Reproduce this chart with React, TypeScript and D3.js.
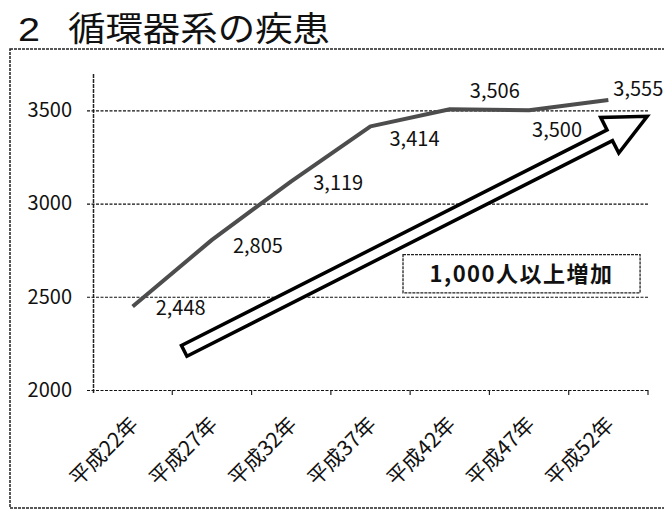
import * as React from "react";
import { select, scaleBand, scaleLinear, axisLeft, line, format, range } from "d3";

// data
const categories = ["平成22年", "平成27年", "平成32年", "平成37年", "平成42年", "平成47年", "平成52年"];
const patients = [2448, 2805, 3119, 3414, 3506, 3500, 3555];
const yTicks = [2000, 2500, 3000, 3500];
const titleNum = "2";
const titleText = "循環器系の疾患";
const noteText = "1,000人以上増加";

// where each value label sits relative to its point (px)
const labelOffsets = [[48, 9], [46, 13], [47, 9], [44, 20], [45, -11], [28, 27], [30, -4]];

// annotation arrow + box, in (category index, value) space
const arrowFrom = [0.65, 2210];
const arrowTo = [6.49, 3468];
const noteBox = [[3.41, 2726], [6.4, 2521]];

const FONT = "'Noto Sans CJK JP', 'Noto Sans', sans-serif";

export default function App() {
    const svgRef = React.useRef<SVGSVGElement>(null);

    React.useEffect(() => {
        document.body.style.margin = "0";
        const svg = select(svgRef.current);
        svg.selectAll("*").remove();

        const left = 93, right = 648, top = 73, bottom = 390;

        // scales
        const x = scaleBand().domain(categories).range([left, right]).padding(0);
        const xi = scaleLinear().domain([-0.5, categories.length - 0.5]).range([left, right]);
        const y = scaleLinear().domain([2000, 3700]).range([bottom, top]);
        const cx = (i: number) => (x(categories[i]) as number) + x.bandwidth() / 2;

        // outer frame
        svg.append("rect")
            .attr("x", 10).attr("y", 49)
            .attr("width", 700).attr("height", 459)
            .attr("fill", "none")
            .attr("stroke", "#222")
            .attr("stroke-width", 1.5)
            .attr("stroke-dasharray", "3,1");

        // title
        svg.append("text")
            .attr("x", 18).attr("y", 41)
            .attr("font-family", "'Liberation Sans', Arial, sans-serif")
            .attr("font-size", 33)
            .attr("textLength", 22)
            .attr("lengthAdjust", "spacingAndGlyphs")
            .attr("fill", "#111")
            .text(titleNum);
        svg.append("text")
            .attr("x", 68).attr("y", 41)
            .attr("font-family", FONT)
            .attr("font-size", 34)
            .attr("textLength", 262)
            .attr("lengthAdjust", "spacingAndGlyphs")
            .attr("fill", "#111")
            .text(titleText);

        // y axis + gridlines
        const yAxis = axisLeft(y)
            .tickValues(yTicks)
            .tickFormat(format("d"))
            .tickSize(7)
            .tickSizeOuter(0)
            .tickPadding(14);
        const gy = svg.append("g")
            .attr("transform", `translate(${left},0)`)
            .call(yAxis);
        gy.select(".domain")
            .attr("d", `M0.5,${bottom + 3}V${top}`)
            .attr("stroke", "#222")
            .attr("stroke-width", 1.5)
            .attr("stroke-dasharray", "4,1");
        gy.selectAll(".tick line")
            .attr("x1", right - left)
            .attr("stroke", "#111")
            .attr("stroke-width", 1.2)
            .attr("stroke-dasharray", "3,1.5");
        gy.selectAll(".tick text")
            .attr("font-family", FONT)
            .attr("font-size", 20)
            .attr("fill", "#111");

        // x axis boundary ticks
        svg.selectAll(".xtick")
            .data(range(1, categories.length + 1))
            .join("line")
            .attr("class", "xtick")
            .attr("x1", d => xi(d - 0.5)).attr("x2", d => xi(d - 0.5))
            .attr("y1", bottom).attr("y2", bottom + 5)
            .attr("stroke", "#222")
            .attr("stroke-width", 1.2);

        // rotated category labels
        svg.selectAll(".xlabel")
            .data(categories)
            .join("text")
            .attr("class", "xlabel")
            .attr("transform", (d, i) => `translate(${cx(i) + 7},${bottom + 36}) rotate(-45)`)
            .attr("text-anchor", "end")
            .attr("font-family", FONT)
            .attr("font-size", 21)
            .attr("fill", "#111")
            .text(d => d);

        // series line
        const lineGen = line<number>()
            .x((d, i) => cx(i))
            .y(d => y(d));
        svg.append("path")
            .datum(patients)
            .attr("d", lineGen)
            .attr("fill", "none")
            .attr("stroke", "#4d4d4d")
            .attr("stroke-width", 4)
            .attr("stroke-linejoin", "round");

        // value labels
        const fmt = format(",");
        svg.selectAll(".vlabel")
            .data(patients)
            .join("text")
            .attr("class", "vlabel")
            .attr("x", (d, i) => cx(i) + labelOffsets[i][0])
            .attr("y", (d, i) => y(d) + labelOffsets[i][1])
            .attr("text-anchor", "middle")
            .attr("font-family", FONT)
            .attr("font-size", 20)
            .attr("fill", "#111")
            .text(d => fmt(d));

        // block arrow
        const p0 = [xi(arrowFrom[0]), y(arrowFrom[1])];
        const p1 = [xi(arrowTo[0]), y(arrowTo[1])];
        const len = Math.hypot(p1[0] - p0[0], p1[1] - p0[1]);
        const u = [(p1[0] - p0[0]) / len, (p1[1] - p0[1]) / len];
        const n = [-u[1], u[0]];
        const sw = 6, hw = 20, hl = 42;
        const pt = (base: number[], along: number, side: number) =>
            [base[0] + u[0] * along + n[0] * side, base[1] + u[1] * along + n[1] * side];
        const pts = [
            pt(p0, 0, sw),
            pt(p1, -hl, sw),
            pt(p1, -hl, hw),
            p1,
            pt(p1, -hl, -hw),
            pt(p1, -hl, -sw),
            pt(p0, 0, -sw)
        ];
        svg.append("path")
            .attr("d", "M" + pts.map(p => p.join(",")).join("L") + "Z")
            .attr("fill", "#fff")
            .attr("stroke", "#000")
            .attr("stroke-width", 3.5)
            .attr("stroke-linejoin", "miter");

        // note box
        const bx0 = xi(noteBox[0][0]), by0 = y(noteBox[0][1]);
        const bx1 = xi(noteBox[1][0]), by1 = y(noteBox[1][1]);
        svg.append("rect")
            .attr("x", bx0).attr("y", by0)
            .attr("width", bx1 - bx0).attr("height", by1 - by0)
            .attr("fill", "#fff")
            .attr("stroke", "#222")
            .attr("stroke-width", 1.3)
            .attr("stroke-dasharray", "3,1");
        svg.append("text")
            .attr("x", (bx0 + bx1) / 2)
            .attr("y", (by0 + by1) / 2 + 8)
            .attr("text-anchor", "middle")
            .attr("font-family", FONT)
            .attr("font-weight", "bold")
            .attr("font-size", 22)
            .attr("letter-spacing", 1.5)
            .attr("fill", "#111")
            .text(noteText);
    }, []);

    return (
        <svg ref={svgRef} width={664} height={510} style={{ display: "block", background: "#fff" }} />
    );
}
